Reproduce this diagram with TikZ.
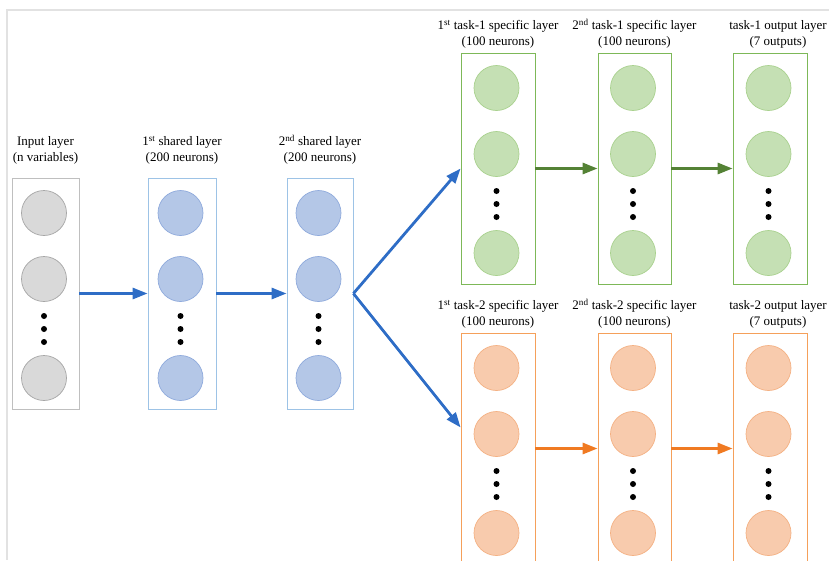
\documentclass[tikz,border=0pt]{standalone}
\usepackage{fontspec}
\setmainfont{Liberation Serif}
\usetikzlibrary{positioning,arrows.meta,calc}
\definecolor{fillgr}{HTML}{D9D9D9}
\definecolor{linegr}{HTML}{A6A6A6}
\definecolor{boxgr}{HTML}{BFBFBF}
\definecolor{fillbl}{HTML}{B4C7E7}
\definecolor{linebl}{HTML}{8FAADC}
\definecolor{boxbl}{HTML}{9DC3E6}
\definecolor{fillgn}{HTML}{C5E0B4}
\definecolor{linegn}{HTML}{A9D18E}
\definecolor{boxgn}{HTML}{7DB858}
\definecolor{fillor}{HTML}{F8CBAD}
\definecolor{lineor}{HTML}{F4B183}
\definecolor{boxor}{HTML}{F5A05A}
\definecolor{arrbl}{HTML}{2E6DC6}
\definecolor{arrgn}{HTML}{548235}
\definecolor{arror}{HTML}{F07A22}
\definecolor{framegr}{HTML}{E2E2E2}

\begin{document}
\begin{tikzpicture}[
  x=1pt, y=-1pt,
  font=\fontsize{13}{16}\selectfont,
  layerbox/.style={rectangle, fill=white, line width=0.8pt,
                   minimum height=231pt, inner sep=0pt},
  neuron/.style={circle, minimum size=45pt, inner sep=0pt, line width=0.7pt},
  gap/.style={circle, fill=black, minimum size=6pt, inner sep=0pt},
  caption/.style={align=center, inner sep=0pt},
  flow/.style={-{Triangle[length=15pt, width=11pt]}, line width=2.8pt},
]
\useasboundingbox (0,0) rectangle (829,560);

% ---- Frame ------------------------------------------------------------------
\draw[framegr, line width=1.2pt] (7,560) |- (829,10);

% ---- Layers: name / centre x / top y / width / colour -----------------------
\foreach \nm/\x/\y/\w/\c in {in/45.5/178/67/gr, sh1/182/178/68/bl,
    sh2/320/178/66/bl, ta1/498/53/74/gn, tb1/634.5/53/73/gn,
    to1/770/53/74/gn, ta2/498/333/74/or, tb2/634.5/333/73/or,
    to2/770/333/74/or} {
  \node[layerbox, draw=box\c, minimum width=\w pt] (\nm) at (\x,\y+115.5) {};
  \foreach \k/\dy in {1/35, 2/101, 3/200}
    \node[neuron, fill=fill\c, draw=line\c] (\nm-n\k) at (\x-1.5,\y+\dy) {};
  \foreach \k/\dy in {1/138, 2/151, 3/164}
    \node[gap] (\nm-d\k) at (\x-1.5,\y+\dy) {};
}

% ---- Captions ---------------------------------------------------------------
\node[caption, above=13pt of in] (incap) {Input layer\\(n variables)};
\node[caption, above=13pt of sh1] (sh1cap) {1\textsuperscript{st} shared layer\\(200 neurons)};
\node[caption, above=13pt of sh2] (sh2cap) {2\textsuperscript{nd} shared layer\\(200 neurons)};
\node[caption, above=4pt of ta1] (ta1cap) {1\textsuperscript{st} task-1 specific layer\\(100 neurons)};
\node[caption, above=4pt of tb1] (tb1cap) {2\textsuperscript{nd} task-1 specific layer\\(100 neurons)};
\node[caption, above=4pt of to1, xshift=8pt] (to1cap) {task-1 output layer\\(7 outputs)};
\node[caption, above=4pt of ta2] (ta2cap) {1\textsuperscript{st} task-2 specific layer\\(100 neurons)};
\node[caption, above=4pt of tb2] (tb2cap) {2\textsuperscript{nd} task-2 specific layer\\(100 neurons)};
\node[caption, above=4pt of to2, xshift=8pt] (to2cap) {task-2 output layer\\(7 outputs)};

% ---- Arrows -----------------------------------------------------------------
\draw[flow, arrbl] (in) -- (sh1);
\draw[flow, arrbl] (sh1) -- (sh2);
\draw[flow, arrbl] (sh2.east) -- (ta1.west);
\draw[flow, arrbl] (sh2.east) -- ($(ta2.west)+(0,21pt)$);
\draw[flow, arrgn] (ta1) -- (tb1);
\draw[flow, arrgn] (tb1) -- (to1);
\draw[flow, arror] (ta2) -- (tb2);
\draw[flow, arror] (tb2) -- (to2);

\end{tikzpicture}
\end{document}
